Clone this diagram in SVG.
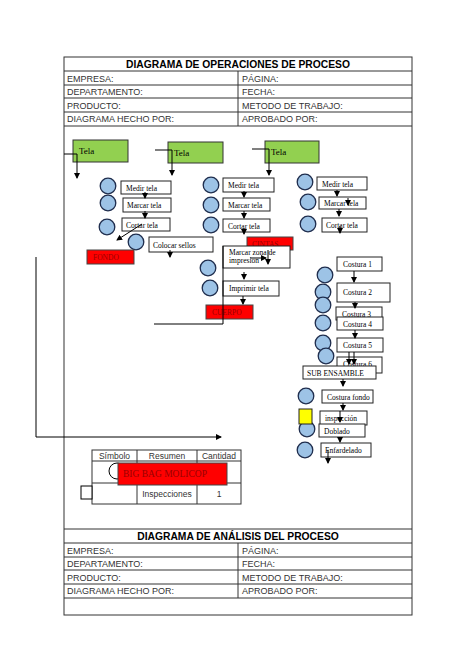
<svg xmlns="http://www.w3.org/2000/svg" width="474" height="670" viewBox="0 0 474 670">
<style>
.frame{fill:none;stroke:#333;stroke-width:1}
.hd{font-family:"Liberation Sans",Arial,sans-serif;font-size:9px;fill:#333}
.ttl{font-family:"Liberation Sans",Arial,sans-serif;font-size:10.3px;font-weight:bold;fill:#000;text-anchor:middle}
.box{fill:#fff;stroke:#222;stroke-width:1}
.grn{fill:#92D050;stroke:#333;stroke-width:1}
.red{fill:#FF0000;stroke:#444;stroke-width:1}
.circ{fill:#9DC3E6;stroke:#1F2D4D;stroke-width:1.3}
.t{font-family:"Liberation Serif","Times New Roman",serif;font-size:7.5px;fill:#000}
.tl{font-family:"Liberation Serif","Times New Roman",serif;font-size:9px;fill:#000}
.tr{font-family:"Liberation Serif","Times New Roman",serif;font-size:7.5px;fill:#990000}
.st{font-family:"Liberation Sans",Arial,sans-serif;font-size:8.5px;fill:#333;text-anchor:middle}
.ln{fill:none;stroke:#000;stroke-width:1}
.la{fill:none;stroke:#000;stroke-width:1;marker-end:url(#ar)}
</style>
<defs>
<marker id="ar" markerWidth="6" markerHeight="6" refX="5" refY="3" orient="auto" markerUnits="userSpaceOnUse"><path d="M0,0 L6,3 L0,6 z" fill="#000"/></marker>
</defs>
<rect width="474" height="670" fill="#fff"/>
<g id="frame">
<rect class="frame" x="64" y="57" width="348" height="558"/>
<line class="frame" x1="64" y1="71" x2="412" y2="71"/>
<line class="frame" x1="64" y1="85" x2="412" y2="85"/>
<line class="frame" x1="64" y1="98" x2="412" y2="98"/>
<line class="frame" x1="64" y1="112" x2="412" y2="112"/>
<line class="frame" x1="64" y1="126" x2="412" y2="126"/>
<line class="frame" x1="238" y1="71" x2="238" y2="126"/>
<line class="frame" x1="64" y1="529" x2="412" y2="529"/>
<line class="frame" x1="64" y1="543" x2="412" y2="543"/>
<line class="frame" x1="64" y1="557" x2="412" y2="557"/>
<line class="frame" x1="64" y1="570" x2="412" y2="570"/>
<line class="frame" x1="64" y1="584" x2="412" y2="584"/>
<line class="frame" x1="64" y1="598" x2="412" y2="598"/>
<line class="frame" x1="238" y1="543" x2="238" y2="598"/>
<text class="ttl" x="238" y="68">DIAGRAMA DE OPERACIONES DE PROCESO</text>
<text class="hd" x="67" y="81.5">EMPRESA:</text>
<text class="hd" x="242" y="81.5">PÁGINA:</text>
<text class="hd" x="67" y="95">DEPARTAMENTO:</text>
<text class="hd" x="242" y="95">FECHA:</text>
<text class="hd" x="67" y="108.5">PRODUCTO:</text>
<text class="hd" x="242" y="108.5">METODO DE TRABAJO:</text>
<text class="hd" x="67" y="122">DIAGRAMA HECHO POR:</text>
<text class="hd" x="242" y="122">APROBADO POR:</text>
<text class="ttl" x="238" y="540">DIAGRAMA DE ANÁLISIS DEL PROCESO</text>
<text class="hd" x="67" y="553.5">EMPRESA:</text>
<text class="hd" x="242" y="553.5">PÁGINA:</text>
<text class="hd" x="67" y="567">DEPARTAMENTO:</text>
<text class="hd" x="242" y="567">FECHA:</text>
<text class="hd" x="67" y="580.5">PRODUCTO:</text>
<text class="hd" x="242" y="580.5">METODO DE TRABAJO:</text>
<text class="hd" x="67" y="594">DIAGRAMA HECHO POR:</text>
<text class="hd" x="242" y="594">APROBADO POR:</text>
</g>
<g id="col1">
<g id="tela1"><rect class="grn" x="73" y="140" width="55" height="22"/><text class="tl" x="79" y="154">Tela</text></g>
<circle class="circ" cx="108" cy="186" r="7.8"/>
<circle class="circ" cx="108" cy="203" r="7.8"/>
<circle class="circ" cx="107" cy="227" r="7.8"/>
<circle class="circ" cx="136" cy="242" r="7.8"/>
<g id="medir1"><rect class="box" x="121" y="181" width="50" height="13"/><text class="t" x="126" y="190.5">Medir tela</text></g>
<g id="marcar1"><rect class="box" x="123" y="198" width="48" height="14"/><text class="t" x="127" y="208">Marcar tela</text></g>
<g id="cortar1"><rect class="box" x="122" y="218" width="48" height="13"/><text class="t" x="126" y="227.5">Cortar tela</text></g>
<g id="sellos"><rect class="box" x="149" y="237" width="64" height="15"/><text class="t" x="153" y="247.5">Colocar sellos</text></g>
<g id="fondo"><rect class="red" x="87" y="250" width="47" height="14"/><text class="tr" x="93" y="260">FONDO</text></g>
</g>
<g id="col2">
<g id="tela2"><rect class="grn" x="168" y="142" width="55" height="21"/><text class="tl" x="174" y="155.5">Tela</text></g>
<circle class="circ" cx="211" cy="185" r="7.8"/>
<circle class="circ" cx="211" cy="205" r="7.8"/>
<circle class="circ" cx="211" cy="225" r="7.8"/>
<circle class="circ" cx="208" cy="268" r="7.8"/>
<circle class="circ" cx="210" cy="288" r="7.8"/>
<g id="medir2"><rect class="box" x="223" y="178" width="51" height="14"/><text class="t" x="228" y="188">Medir tela</text></g>
<g id="marcar2"><rect class="box" x="223" y="198" width="47" height="13"/><text class="t" x="228" y="207.5">Marcar tela</text></g>
<g id="cortar2"><rect class="box" x="223" y="219" width="47" height="13"/><text class="t" x="228" y="228.5">Cortar tela</text></g>
<g id="cintas"><rect class="red" x="247" y="237" width="46" height="13"/><text class="tr" x="252" y="246.5">CINTAS</text></g>
<g id="zona"><rect class="box" x="223" y="246" width="67" height="22"/><text class="t" x="229" y="254.5">Marcar zona de</text><text class="t" x="229" y="263">impresion</text></g>
<g id="imprimir"><rect class="box" x="223" y="281" width="56" height="15"/><text class="t" x="229" y="291">Imprimir tela</text></g>
<g id="cuerpo"><rect class="red" x="206" y="305" width="47" height="14"/><text class="tr" x="212" y="315">CUERPO</text></g>
</g>
<g id="col3">
<g id="tela3"><rect class="grn" x="265" y="141" width="54" height="22"/><text class="tl" x="271" y="154.5">Tela</text></g>
<circle class="circ" cx="305" cy="182" r="7.8"/>
<circle class="circ" cx="308" cy="202" r="7.8"/>
<circle class="circ" cx="308" cy="224" r="7.8"/>
<g id="medir3"><rect class="box" x="317" y="177" width="50" height="13"/><text class="t" x="322" y="186.5">Medir tela</text></g>
<g id="marcar3"><rect class="box" x="319" y="197" width="47" height="12"/><text class="t" x="324" y="206">Marcar tela</text></g>
<g id="cortar3"><rect class="box" x="322" y="218" width="45" height="14"/><text class="t" x="326" y="228">Cortar tela</text></g>
<circle class="circ" cx="325" cy="275" r="7.8"/>
<circle class="circ" cx="323" cy="292" r="7.8"/>
<circle class="circ" cx="323" cy="305" r="7.8"/>
<circle class="circ" cx="323" cy="323" r="7.8"/>
<circle class="circ" cx="323" cy="343" r="7.8"/>
<circle class="circ" cx="326" cy="356" r="7.8"/>
<g id="c1"><rect class="box" x="337" y="257" width="45" height="14"/><text class="t" x="343" y="267">Costura 1</text></g>
<g id="c2"><rect class="box" x="337" y="283" width="53" height="19"/><text class="t" x="343" y="295">Costura 2</text></g>
<g id="c3"><rect class="box" x="336" y="307" width="46" height="13"/><text class="t" x="342" y="317">Costura 3</text></g>
<g id="c4"><rect class="box" x="337" y="317" width="46" height="13"/><text class="t" x="343" y="327">Costura 4</text></g>
<g id="c5"><rect class="box" x="337" y="338" width="46" height="14"/><text class="t" x="343" y="348">Costura 5</text></g>
<g id="c6"><rect class="box" x="337" y="357" width="45" height="16"/><text class="t" x="343" y="367">Costura 6</text></g>
<g id="subens"><rect class="box" x="303" y="366" width="73" height="13"/><text class="t" x="307" y="375.5">SUB ENSAMBLE</text></g>
<circle class="circ" cx="306" cy="396" r="7.8"/>
<g id="cfondo"><rect class="box" x="322" y="390" width="51" height="13"/><text class="t" x="327" y="399.5">Costura fondo</text></g>
<circle class="circ" cx="307" cy="429" r="7.8"/>
<rect id="insp-sym" x="299" y="409" width="13" height="15" fill="#FFFF00" stroke="#222" stroke-width="1"/>
<g id="insp"><rect class="box" x="320" y="411" width="47" height="14"/><text class="t" x="325" y="421">inspección</text></g>
<g id="doblado"><rect class="box" x="319" y="424" width="46" height="13"/><text class="t" x="324" y="433.5">Doblado</text></g>
<circle class="circ" cx="305" cy="450" r="7.8"/>
<g id="enfard"><rect class="box" x="321" y="443" width="50" height="14"/><text class="t" x="325" y="453">Enfardelado</text></g>
</g>
<g id="summary">
<rect class="frame" x="92" y="450" width="149" height="54"/>
<line class="frame" x1="92" y1="461" x2="241" y2="461"/>
<line class="frame" x1="92" y1="483" x2="241" y2="483"/>
<line class="frame" x1="137" y1="450" x2="137" y2="504"/>
<line class="frame" x1="197" y1="450" x2="197" y2="504"/>
<text class="st" x="114.5" y="458.5">Símbolo</text>
<text class="st" x="167" y="458.5">Resumen</text>
<text class="st" x="219" y="458.5">Cantidad</text>
<circle cx="117" cy="471" r="8" fill="#fff" stroke="#000" stroke-width="1"/>
<g id="bigbag"><rect class="red" x="118" y="463" width="109" height="22"/><text class="tr" style="font-size:9.5px" x="123" y="477">BIG BAG MOLICOP</text></g>
<rect x="81" y="486" width="11" height="13" fill="#fff" stroke="#000" stroke-width="1"/>
<text class="st" x="167" y="497">Inspecciones</text>
<text class="st" x="219" y="497">1</text>
</g>
<g id="connectors">
<path class="la" d="M64,154 H77 V178"/>
<path class="la" d="M155,150 H172 V175"/>
<path class="la" d="M252,149 H269 V175"/>
<path class="la" d="M145,192 V198"/>
<path class="la" d="M145,211 V218"/>
<path class="la" d="M142,224 L117,240"/>
<path class="la" d="M170,250 V257"/>
<path class="la" d="M244,191 V197"/>
<path class="la" d="M244,211 V218"/>
<path class="la" d="M244,228 V234"/>
<path class="la" d="M250,258 H266"/>
<path class="la" d="M268,250 V264"/>
<path class="la" d="M244,272 V279"/>
<path class="la" d="M243,296 V304"/>
<path class="ln" d="M223,246 V324 H154"/>
<path class="la" d="M337,190 V196"/>
<path class="la" d="M348,198 V205"/>
<path class="la" d="M339,209 V216"/>
<path class="la" d="M340,226 V233"/>
<path class="la" d="M354,271 V282"/>
<path class="la" d="M355,302 V308"/>
<path class="la" d="M355,330 V338"/>
<path class="la" d="M349,352 V364"/>
<path class="la" d="M354,352 V364"/>
<path class="la" d="M343,379 V386"/>
<path class="la" d="M343,403 V410"/>
<path class="la" d="M340,411 V422"/>
<path class="la" d="M340,437 V442"/>
<path class="la" d="M328,450 V463"/>
<path class="la" d="M36,257 V437 H221"/>
</g>
</svg>
